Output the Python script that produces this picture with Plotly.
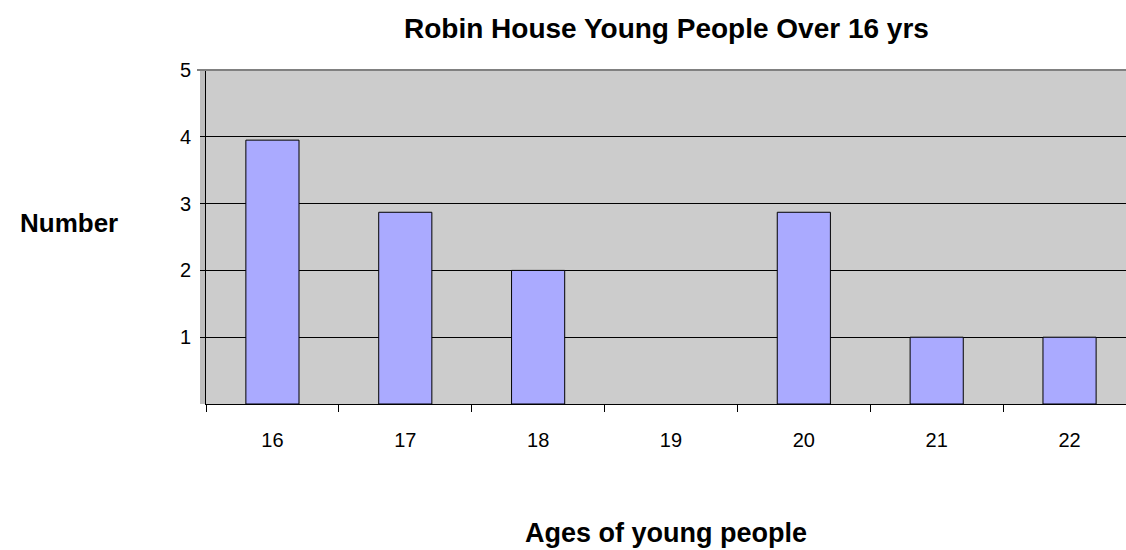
import plotly.graph_objects as go

ages = ["16", "17", "18", "19", "20", "21", "22"]
counts = [3.95, 2.87, 2.0, 0, 2.87, 1.0, 1.0]
y_ticks = [1, 2, 3, 4, 5]

title_text = "Robin House Young People Over 16 yrs"
y_title = "Number"
x_title = "Ages of young people"

bar_x = [a for a, c in zip(ages, counts) if c > 0]
bar_y = [c for c in counts if c > 0]

fig = go.Figure()
fig.add_trace(go.Bar(
    x=bar_x, y=bar_y, width=0.4,
    marker=dict(color="#AAAAFF", line=dict(color="#000000", width=1)),
))

font = "Liberation Sans, Arial, sans-serif"

L, R, T, B = 206, 0, 70, 146
W, H = 1126, 550
pw = W - L - R
ph = H - T - B


def px_x(x):
    return (x - L) / pw


def px_y(y):
    return (H - B - y) / ph


fig.update_layout(
    width=W, height=H,
    margin=dict(l=L, r=R, t=T, b=B),
    paper_bgcolor="white",
    plot_bgcolor="#CCCCCC",
    showlegend=False,
    font=dict(family=font, color="#000000", size=20),
    xaxis=dict(
        type="category", categoryorder="array", categoryarray=ages,
        range=[-0.5, 6.425],
        tickson="boundaries", ticks="outside", ticklen=7, tickcolor="#000000",
        showgrid=False, showline=True, linecolor="#000000", linewidth=1,
        ticklabelstandoff=18, tickfont=dict(size=20),
    ),
    yaxis=dict(
        range=[0, 5], tickvals=y_ticks, ticks="outside", ticklen=5,
        tickcolor="#000000", showgrid=True, gridcolor="#000000", gridwidth=1,
        showline=True, linecolor="#000000", linewidth=1, zeroline=False,
        ticklabelstandoff=5, tickfont=dict(size=20),
    ),
    annotations=[
        dict(text="<b>" + title_text + "</b>", x=px_x(666), y=px_y(29),
             xref="paper", yref="paper", xanchor="center", yanchor="middle",
             showarrow=False, font=dict(size=28)),
        dict(text="<b>" + y_title + "</b>", x=px_x(69), y=px_y(223),
             xref="paper", yref="paper", xanchor="center", yanchor="middle",
             showarrow=False, font=dict(size=26)),
        dict(text="<b>" + x_title + "</b>", x=px_x(666), y=px_y(533),
             xref="paper", yref="paper", xanchor="center", yanchor="middle",
             showarrow=False, font=dict(size=27)),
    ],
)

# top border of the plot (grey 3D edge)
fig.add_shape(type="line", xref="paper", yref="paper", x0=px_x(197), x1=1, y0=1, y1=1,
              line=dict(color="#808080", width=2))
# light grey strip to the left of the value axis (3D wall edge)
fig.add_shape(type="rect", xref="paper", yref="paper", x0=px_x(200), x1=0, y0=0, y1=1,
              line=dict(width=0), fillcolor="#BEBEBE", layer="below")

fig.write_html("out.html")
